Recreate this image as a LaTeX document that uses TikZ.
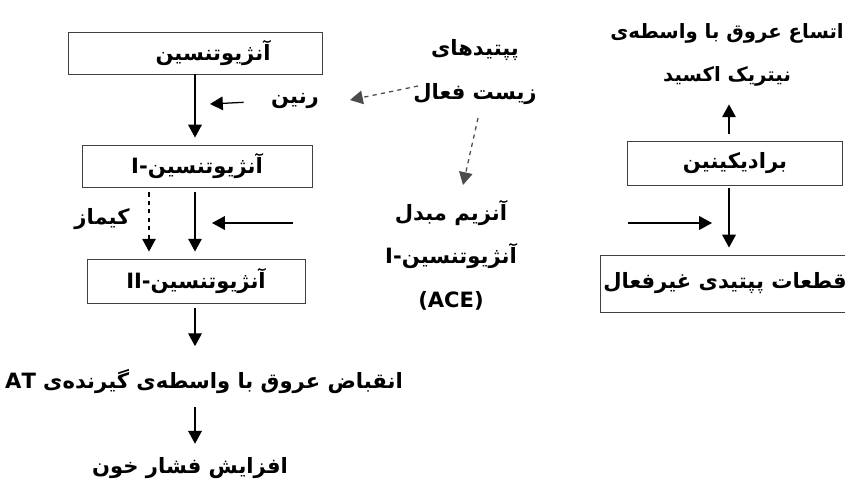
\documentclass[tikz,border=0pt]{standalone}
\usepackage{fontspec}
\setmainfont{DejaVu Sans}
\newfontfamily\farsi[Script=Arabic]{DejaVu Sans}
\TeXXeTstate=1
\usepackage{tikz}
\usetikzlibrary{arrows.meta, positioning}
\newcommand{\fa}[1]{\beginR #1\endR}
\tikzset{
  box/.style={rectangle, draw=black!75, line width=0.6pt, fill=white, align=center, inner sep=2pt, font=\farsi\bfseries\fontsize{15}{30}\selectfont},
  lbl/.style={align=center, inner sep=1pt, font=\farsi\bfseries\fontsize{15}{31}\selectfont},
  arrow/.style={-{Triangle[length=3.2mm, width=3.4mm]}, line width=0.9pt, color=black},
  darrow/.style={arrow, dashed, color=black!70},
}
\begin{document}
\begin{tikzpicture}[x=0.025cm, y=-0.025cm]
  \useasboundingbox (0,0) rectangle (845,483);
  % renin-angiotensin side
  \node[box, minimum width=6.35cm, minimum height=1.05cm] (ang) at (195,53) {\hspace*{0.9cm}\fa{آنژیوتنسین}};
  \node[box, minimum width=5.75cm, minimum height=1.05cm] (ang1) at (197,166) {\fa{آنژیوتنسین-I}};
  \node[box, minimum width=5.45cm, minimum height=1.1cm] (ang2) at (196,281) {\fa{آنژیوتنسین-II}};
  \node[lbl] (renin) at (295,101) {\fa{رنین}};
  \node[lbl] (chy) at (102,219) {\fa{کیماز}};
  \node[lbl] (vaso) at (204,381) {\fa{انقباض عروق با واسطه^^^^200cی گیرنده^^^^200cی \beginL AT\endL}};
  \node[lbl] (bp) at (190,468) {\fa{افزایش فشار خون}};
  % peptides and ACE
  \node[lbl] (pep) at (475,72) {\fa{پپتیدهای}\\\fa{زیست فعال}};
  \node[lbl] (ace) at (451,255) {\fa{آنزیم مبدل}\\\fa{آنژیوتنسین-I}\\(ACE)};
  % bradykinin side
  \node[lbl, font=\farsi\bfseries\fontsize{14}{31}\selectfont] (no) at (727,55) {\fa{اتساع عروق با واسطه^^^^200cی}\\\fa{نیتریک اکسید}};
  \node[box, minimum width=5.375cm, minimum height=1.1cm] (brady) at (735,163) {\fa{برادیکینین}};
  \node[box, minimum width=6cm, minimum height=1.425cm] (frag) at (725,283.5) {\fa{قطعات پپتیدی غیرفعال}};

  \coordinate (reninhit) at (210,104);
  \coordinate (peptail) at (418,86);
  \coordinate (pephit) at (350,100);
  \coordinate (acetail) at (478,118);
  \coordinate (acehit) at (463,185);
  \coordinate (acefrom) at (293,223);
  \coordinate (acehitl) at (212,223);
  \coordinate (acefromr) at (628,223);
  \coordinate (acehitr) at (712,223);
  \coordinate (bradyx) at (729,0);

  \draw[arrow, shorten >=5pt] (ang.south) -- (ang1.north -| ang.south);
  \draw[arrow, shorten <=6.5mm] (renin.west) -- (reninhit);
  \draw[darrow] (peptail) -- (pephit);
  \draw[darrow] (acetail) -- (acehit);
  \draw[arrow, shorten <=3.5pt, shorten >=5pt] (ang1.south -| ang.south) -- (ang2.north -| ang.south);
  \draw[darrow, color=black, shorten <=3.5pt, shorten >=5pt] ([xshift=-1.15cm]ang1.south -| ang.south) -- ([xshift=-1.15cm]ang2.north -| ang.south);
  \draw[arrow] (acefrom) -- (acehitl);
  \draw[arrow, shorten <=3pt, shorten >=5.25mm] (ang2.south -| ang.south) -- (vaso.north -| ang.south);
  \draw[arrow, shorten <=3mm, shorten >=3mm] (vaso.south -| ang.south) -- (bp.north -| ang.south);
  \draw[arrow, shorten <=5pt, shorten >=4mm] (brady.north -| bradyx) -- (no.south -| bradyx);
  \draw[arrow, shorten <=2pt, shorten >=5pt] (brady.south -| bradyx) -- (frag.north -| bradyx);
  \draw[arrow] (acefromr) -- (acehitr);
\end{tikzpicture}
\end{document}
